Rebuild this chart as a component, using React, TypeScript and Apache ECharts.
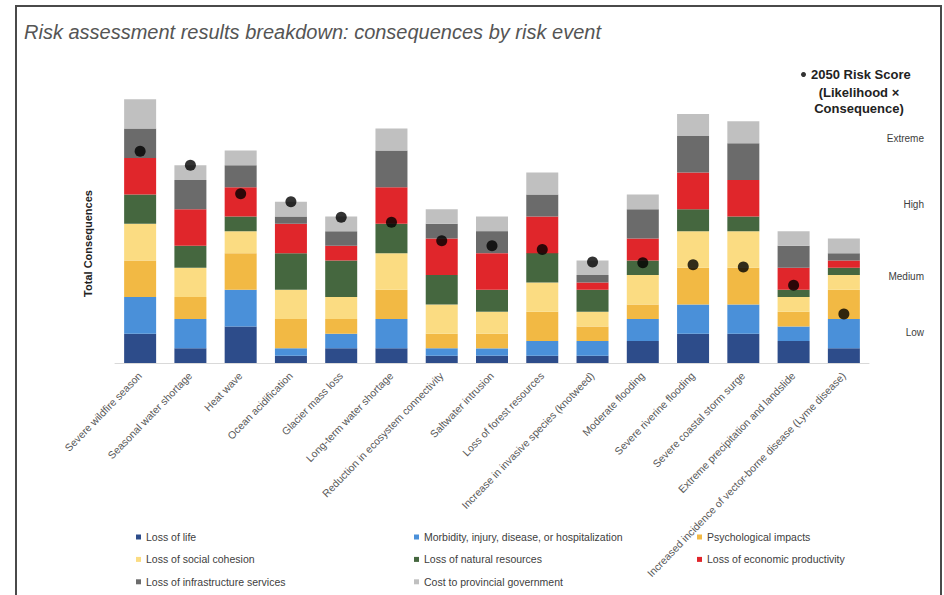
import React, { useEffect, useRef } from "react";
import * as echarts from "echarts";

const categories = [
  "Severe wildfire season",
  "Seasonal water shortage",
  "Heat wave",
  "Ocean acidification",
  "Glacier mass loss",
  "Long-term water shortage",
  "Reduction in ecosystem connectivity",
  "Saltwater intrusion",
  "Loss of forest resources",
  "Increase in invasive species (knotweed)",
  "Moderate flooding",
  "Severe riverine flooding",
  "Severe coastal storm surge",
  "Extreme precipitation and landslide",
  "Increased incidence of vector-borne disease (Lyme disease)",
];

const lossOfLife = [4, 2, 5, 1, 2, 2, 1, 1, 1, 1, 3, 4, 4, 3, 2];
const morbidity = [5, 4, 5, 1, 2, 4, 1, 1, 2, 2, 3, 4, 4, 2, 4];
const psychological = [5, 3, 5, 4, 2, 4, 2, 2, 4, 2, 2, 5, 5, 2, 4];
const socialCohesion = [5, 4, 3, 4, 3, 5, 4, 3, 4, 2, 4, 5, 5, 2, 2];
const naturalResources = [4, 3, 2, 5, 5, 4, 4, 3, 4, 3, 2, 3, 2, 1, 1];
const economicProductivity = [5, 5, 4, 4, 2, 5, 5, 5, 5, 1, 3, 5, 5, 3, 1];
const infrastructureServices = [4, 4, 3, 1, 2, 5, 2, 3, 3, 1, 4, 5, 5, 3, 1];
const provincialCost = [4, 2, 2, 2, 2, 3, 2, 2, 3, 2, 2, 3, 3, 2, 2];

const riskScores = [28.9, 27.0, 23.1, 22.0, 19.9, 19.2, 16.7, 16.0, 15.5, 13.8, 13.7, 13.4, 13.1, 10.6, 6.7];

const riskLevelLabels = ["Low", "Medium", "High", "Extreme"];
const riskLevelValues = [4.1, 11.8, 21.7, 30.7];

const seriesNames = [
  "Loss of life",
  "Morbidity, injury, disease, or hospitalization",
  "Psychological impacts",
  "Loss of social cohesion",
  "Loss of natural resources",
  "Loss of economic productivity",
  "Loss of infrastructure services",
  "Cost to provincial government",
];
const seriesData = [
  lossOfLife,
  morbidity,
  psychological,
  socialCohesion,
  naturalResources,
  economicProductivity,
  infrastructureServices,
  provincialCost,
];
const seriesColors = [
  "#2D4C8A",
  "#4A90D9",
  "#F2B944",
  "#FBDC82",
  "#45673F",
  "#E0262B",
  "#6B6B6B",
  "#C0C0C0",
];
const riskName = "2050 Risk Score";

const FONT = "'Liberation Sans', Arial, sans-serif";

export default function App() {
  const ref = useRef<HTMLDivElement>(null);
  useEffect(() => {
    if (!ref.current) return;
    const chart = echarts.init(ref.current, null, { renderer: "svg" });
    const legendText = { fontSize: 10.5, color: "#404040", fontFamily: FONT, lineHeight: 12 };
    const legendBase = {
      orient: "vertical",
      itemWidth: 5,
      itemHeight: 5,
      itemGap: 10.4,
      icon: "rect",
      selectedMode: false,
      textStyle: legendText,
      padding: 0,
      top: 531,
    };
    chart.setOption({
      animation: false,
      backgroundColor: "#ffffff",
      textStyle: { fontFamily: FONT },
      title: {
        text: "Risk assessment results breakdown: consequences by risk event",
        left: 24,
        top: 22,
        padding: 0,
        textStyle: {
          fontSize: 20,
          fontStyle: "italic",
          fontWeight: "normal",
          color: "#555555",
          fontFamily: FONT,
        },
      },
      graphic: [
        {
          type: "rect",
          shape: { x: 16, y: 6, width: 925, height: 600 },
          style: { fill: "none", stroke: "#4a4a4a", lineWidth: 2 },
          silent: true,
        },
        {
          type: "text",
          x: 859,
          y: 84,
          style: {
            text: "(Likelihood ×\nConsequence)",
            fontSize: 13,
            fontWeight: "bold",
            fill: "#222222",
            align: "center",
            lineHeight: 16,
            fontFamily: FONT,
          },
        },
      ],
      legend: [
        { ...legendBase, left: 136, data: [seriesNames[0], seriesNames[3], seriesNames[6]] },
        { ...legendBase, left: 414, data: [seriesNames[1], seriesNames[4], seriesNames[7]] },
        { ...legendBase, left: 697, data: [seriesNames[2], seriesNames[5]] },
        {
          orient: "vertical",
          left: 801,
          top: 68,
          padding: 0,
          icon: "circle",
          itemWidth: 5,
          itemHeight: 5,
          itemGap: 0,
          selectedMode: false,
          data: [riskName],
          textStyle: { fontSize: 13, fontWeight: "bold", color: "#222222", fontFamily: FONT },
        },
      ],
      grid: { left: 115, right: 75, top: 70, bottom: 232 },
      xAxis: {
        type: "category",
        data: categories,
        axisLine: { lineStyle: { color: "#d9d9d9", width: 1 } },
        axisTick: { show: false },
        axisLabel: {
          interval: 0,
          rotate: 46,
          fontSize: 10.5,
          color: "#595959",
          margin: 11,
          fontFamily: FONT,
        },
      },
      yAxis: [
        {
          type: "value",
          min: 0,
          max: 40,
          name: "Total Consequences",
          nameLocation: "middle",
          nameGap: 22,
          nameTextStyle: {
            fontSize: 11,
            fontWeight: "bold",
            color: "#222222",
            fontFamily: FONT,
            padding: [0, 54, 0, 0],
          },
          axisLine: { show: false },
          axisTick: { show: false },
          axisLabel: { show: false },
          splitLine: { show: false },
        },
        {
          type: "value",
          min: 0,
          max: 40,
          position: "right",
          axisLine: { show: false },
          axisTick: { show: false },
          splitLine: { show: false },
          axisLabel: {
            customValues: riskLevelValues,
            align: "right",
            margin: 55,
            fontSize: 10,
            color: "#404040",
            fontFamily: FONT,
            formatter: (v: number) => {
              let best = -1;
              let bd = Infinity;
              riskLevelValues.forEach((rv, i) => {
                const d = Math.abs(rv - v);
                if (d < bd) {
                  bd = d;
                  best = i;
                }
              });
              return bd < 0.5 ? riskLevelLabels[best] : "";
            },
          },
        },
      ],
      series: [
        ...seriesNames.map((name, i) => ({
          name,
          type: "bar",
          stack: "total",
          barWidth: 32,
          data: seriesData[i],
          itemStyle: { color: seriesColors[i] },
        })),
        {
          name: riskName,
          type: "scatter",
          yAxisIndex: 1,
          data: riskScores,
          symbol: "circle",
          symbolSize: 11,
          itemStyle: { color: "#000000" },
          z: 5,
        },
      ],
    });
    return () => chart.dispose();
  }, []);
  return (
    <div
      ref={ref}
      style={{ position: "fixed", left: 0, top: 0, width: 944, height: 595 }}
    />
  );
}
